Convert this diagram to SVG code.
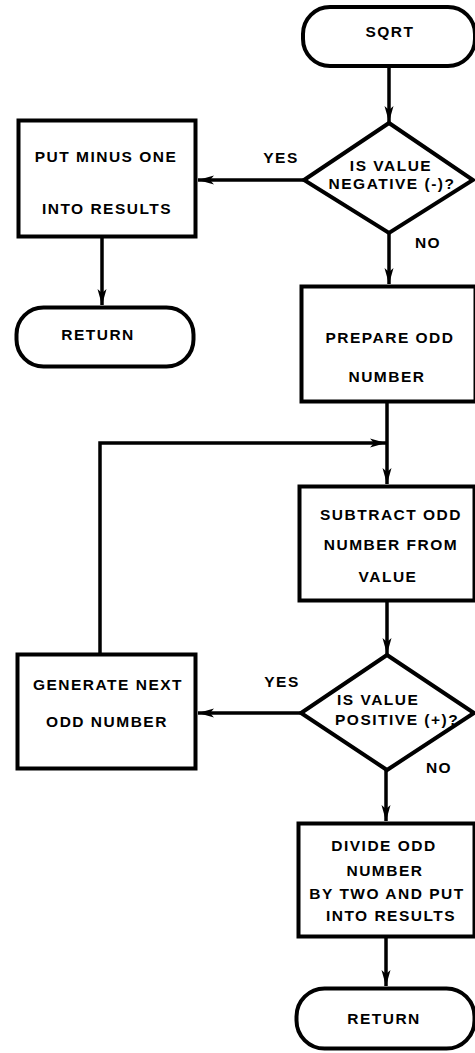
<svg xmlns="http://www.w3.org/2000/svg" width="475" height="1053" viewBox="0 0 475 1053">
<style>
.shape{fill:#fff;stroke:#000;stroke-width:4;stroke-linejoin:miter}
.conn{fill:none;stroke:#000;stroke-width:3.5}
text{font-family:"Liberation Sans",Arial,sans-serif;font-weight:bold;font-size:15.5px;letter-spacing:1.5px;fill:#000;text-anchor:middle}
text.st{text-anchor:start}
</style>
<defs>
<marker id="arr" markerUnits="userSpaceOnUse" viewBox="0 0 16 10" refX="16" refY="5" markerWidth="16" markerHeight="10" orient="auto">
<path d="M0,0.5 L16,5 L0,9.5 L4,5 z" fill="#000"/>
</marker>
</defs>
<rect width="475" height="1053" fill="#fff"/>
<g id="connectors">
<path class="conn" d="M389,68 V122" marker-end="url(#arr)"/>
<path class="conn" d="M304,180 H198" marker-end="url(#arr)"/>
<path class="conn" d="M102,238 V305" marker-end="url(#arr)"/>
<path class="conn" d="M389,233 V284" marker-end="url(#arr)"/>
<path class="conn" d="M387,403 V484" marker-end="url(#arr)"/>
<path class="conn" d="M100,653 V443 H386" marker-end="url(#arr)"/>
<path class="conn" d="M387,602 V654" marker-end="url(#arr)"/>
<path class="conn" d="M301,713 H198" marker-end="url(#arr)"/>
<path class="conn" d="M386,770 V821" marker-end="url(#arr)"/>
<path class="conn" d="M386,938 V986" marker-end="url(#arr)"/>
</g>
<g id="label-yes1"><text x="281" y="163">YES</text></g>
<g id="label-no1"><text x="428" y="248">NO</text></g>
<g id="label-yes2"><text x="282" y="687">YES</text></g>
<g id="label-no2"><text x="439" y="773">NO</text></g>
<g id="sqrt">
<rect class="shape" x="303" y="7" width="172" height="59" rx="27"/>
<text x="390" y="37">SQRT</text>
</g>
<g id="neg">
<polygon class="shape" points="389,123 473,180 389,233 304,180"/>
<text x="391" y="171">IS VALUE</text>
<text x="392" y="189">NEGATIVE (-)?</text>
</g>
<g id="minusone">
<rect class="shape" x="18.5" y="120.5" width="177" height="116"/>
<text x="106" y="162">PUT MINUS ONE</text>
<text x="107" y="214">INTO RESULTS</text>
</g>
<g id="return1">
<rect class="shape" x="16.5" y="307.5" width="177" height="59" rx="27"/>
<text x="98" y="340">RETURN</text>
</g>
<g id="prepare">
<rect class="shape" x="301.5" y="286.5" width="174" height="115"/>
<text x="390" y="343">PREPARE ODD</text>
<text x="387" y="382">NUMBER</text>
</g>
<g id="subtract">
<rect class="shape" x="299.5" y="486.5" width="175" height="114"/>
<text x="391" y="520">SUBTRACT ODD</text>
<text x="391" y="550">NUMBER FROM</text>
<text x="388" y="582">VALUE</text>
</g>
<g id="pos">
<polygon class="shape" points="387,655 474,713 387,770 301,713"/>
<text class="st" x="337" y="705">IS VALUE</text>
<text class="st" x="335" y="725">POSITIVE (+)?</text>
</g>
<g id="generate">
<rect class="shape" x="17.5" y="654.5" width="178" height="114"/>
<text x="108" y="690">GENERATE NEXT</text>
<text x="107" y="727">ODD NUMBER</text>
</g>
<g id="divide">
<rect class="shape" x="298.5" y="823.5" width="176" height="113"/>
<text x="384" y="851">DIVIDE ODD</text>
<text x="385" y="876">NUMBER</text>
<text x="387" y="899">BY TWO AND PUT</text>
<text x="391" y="921">INTO RESULTS</text>
</g>
<g id="return2">
<rect class="shape" x="296.5" y="988.5" width="178" height="60" rx="28"/>
<text x="384" y="1024">RETURN</text>
</g>
</svg>
